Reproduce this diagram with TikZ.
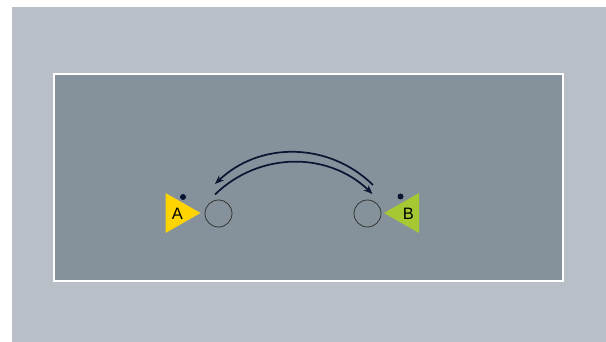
\documentclass[tikz,border=0pt]{standalone}
\usepackage{fontspec}
\setmainfont{Liberation Sans}
\usetikzlibrary{arrows.meta}
\definecolor{outerbg}{HTML}{B8BFC6}
\definecolor{innerbg}{HTML}{85929B}
\definecolor{navy}{HTML}{0B1430}
\definecolor{yellowA}{HTML}{FFD400}
\definecolor{greenB}{HTML}{A6C832}
\tikzset{
  port/.style={circle, draw=black!80, line width=0.8pt, minimum size=27pt, inner sep=0pt},
  marker/.style={circle, fill=navy, minimum size=6pt, inner sep=0pt},
  flow/.style={draw=navy, line width=1.7pt, -{Stealth[length=9pt,width=7pt]}},
  tag/.style={font=\fontsize{16.5}{16.5}\selectfont, text=black}
}
\begin{document}
\begin{tikzpicture}[x=1pt,y=-1pt]
  \useasboundingbox (0,0) rectangle (606,342);
  \fill[white] (0,0) rectangle (606,342);
  % outer panel and framed area
  \fill[outerbg] (12,7) rectangle (606,342);
  \fill[innerbg, draw=white, line width=2pt] (54,74) rectangle (563,281);

  % side A
  \fill[yellowA] (165.5,193) -- (200.5,213) -- (165.5,233) -- cycle;
  \node[tag] (la) at (177.5,214) {A};
  \node[marker] (da) at (183,197) {};
  \node[port] (pa) at (218.5,213.5) {};

  % side B
  \fill[greenB] (419,193) -- (384,213) -- (419,233) -- cycle;
  \node[tag] (lb) at (408.5,214) {B};
  \node[marker] (db) at (400.5,196.5) {};
  \node[port] (pb) at (367.5,213.5) {};

  % arc endpoints
  \coordinate (aTop) at (215,184);
  \coordinate (aLow) at (215,194.5);
  \coordinate (bTop) at (373,185);
  \coordinate (bLow) at (372.5,194);

  % exchange arrows
  \draw[flow] (bTop) to[bend right=44] (aTop);
  \draw[flow] (aLow) to[bend left=44] (bLow);
\end{tikzpicture}
\end{document}
